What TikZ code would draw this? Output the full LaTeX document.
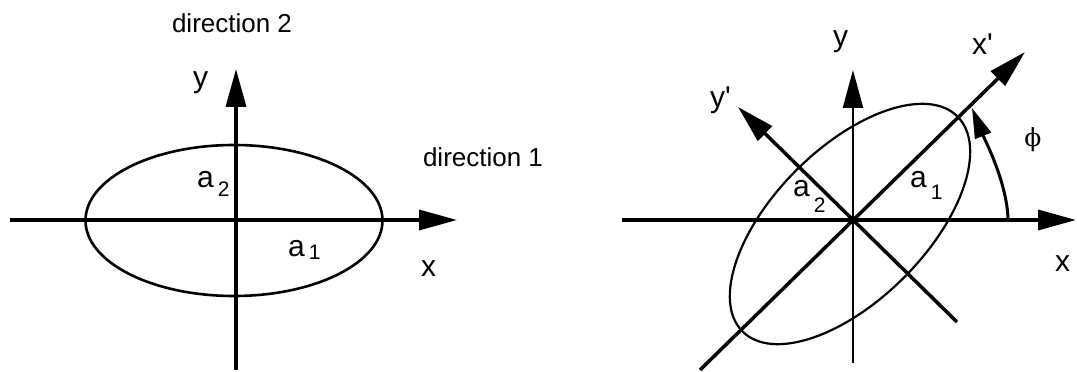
\documentclass[tikz,border=0pt]{standalone}
\usepackage{fontspec}
\setmainfont{Liberation Sans}
\newfontfamily\phifont{DejaVu Serif}
\usetikzlibrary{arrows.meta}
\newcommand{\asub}[3][8pt]{#2\hspace{4pt}\raisebox{-#1}{\fontsize{21}{21}\selectfont #3}}
\begin{document}
\begin{tikzpicture}[x=1pt, y=1pt,
  axis/.style={line width=3.5pt, -{Triangle[length=38pt,width=20pt]}},
  ell/.style={line width=2.6pt},
  lbl/.style={font=\fontsize{30}{30}\selectfont, inner sep=0pt, anchor=base west},
  dirlbl/.style={font=\fontsize{26}{26}\selectfont, inner sep=0pt, anchor=base}]
\useasboundingbox (0,0) rectangle (1077,372);
\coordinate (o1) at (236,152);
\coordinate (xs1) at (10,152);
\coordinate (xe1) at (457,152);
\coordinate (ys1) at (236,2);
\coordinate (ye1) at (236,303);
\draw[ell] (234,151.5) ellipse [x radius=148.5, y radius=75.5];
\draw[axis] (xs1) -- (xe1);
\draw[axis] (ys1) -- (ye1);
\node[dirlbl] (dir2) at (232,339) {direction 2};
\node[dirlbl] (dir1) at (483,205) {direction 1};
\node[lbl] (y1) at (193,284) {y};
\node[lbl] (x1) at (421,95) {x};
\node[lbl] (a21) at (197,184) {\asub[9pt]{a}{2}};
\node[lbl] (a11) at (288,115) {\asub[3pt]{a}{1}};
\coordinate (o2) at (853,152);
\coordinate (xs2) at (622,152);
\coordinate (xe2) at (1076,152);
\coordinate (ys2) at (853,9);
\coordinate (ye2) at (853,302);
\coordinate (us) at (700,2);
\coordinate (ue) at (1025,320);
\coordinate (vs) at (957,50);
\coordinate (ve) at (738,265);
\coordinate (ps) at (1008,153);
\coordinate (pe) at (972,264);
\draw[ell, line width=2.2pt, rotate around={45:(850,148)}] (850,148) ellipse [x radius=152, y radius=76];
\draw[axis] (xs2) -- (xe2);
\draw[axis, line width=2.4pt] (ys2) -- (ye2);
\draw[axis] (us) -- (ue);
\draw[axis] (vs) -- (ve);
\draw[line width=3pt, -{Triangle[length=30pt,width=17pt]}] (ps) .. controls (1007,190) and (984,234) .. (pe);
\node[lbl] (y2) at (833,325) {y};
\node[lbl] (xp) at (972,317) {x\textquotesingle};
\node[lbl] (yp) at (710,264) {y\textquotesingle};
\node[lbl] (x2) at (1055,100) {x};
\node[lbl] (a22) at (793,175) {\asub[16pt]{a}{2}};
\node[lbl] (a12) at (910,184) {\asub[12pt]{a}{1}};
\node[font=\phifont\fontsize{25}{25}\selectfont, inner sep=0pt] (phi) at (1033,232) {ϕ};
\end{tikzpicture}
\end{document}
